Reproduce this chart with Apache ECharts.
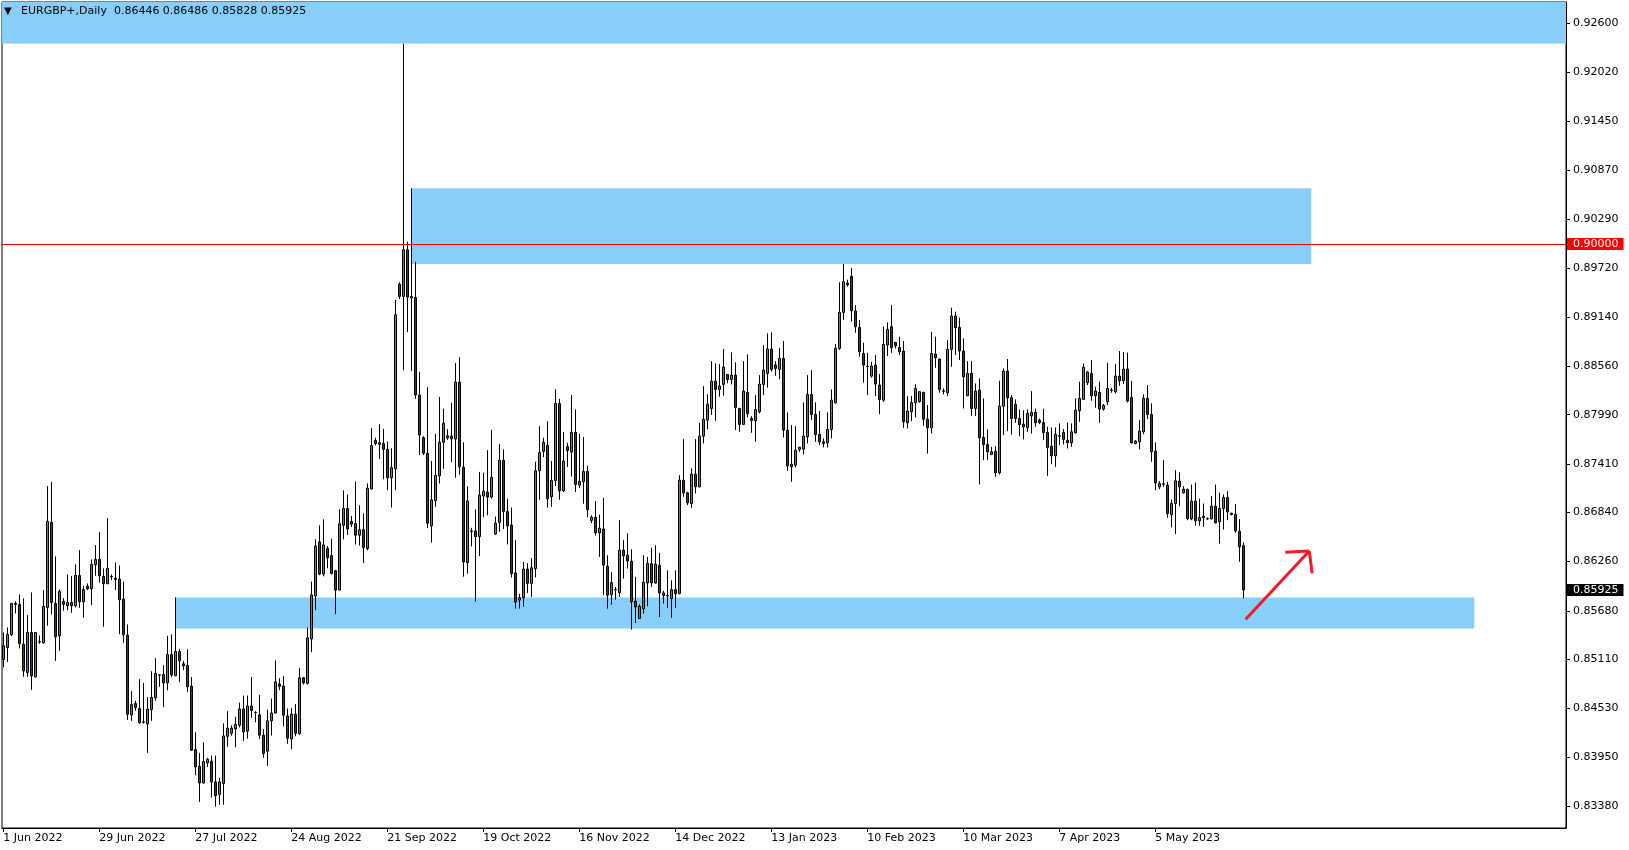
<!DOCTYPE html>
<html><head><meta charset="utf-8">
<script src="https://cdn.jsdelivr.net/npm/echarts@6/dist/echarts.min.js"></script>
<style>html,body{margin:0;padding:0;background:#fff}#c{width:1629px;height:850px}</style>
</head><body><div id="c"></div>
<script>
// ---------- data ----------
const symbolTitle = 'EURGBP+,Daily  0.86446 0.86486 0.85828 0.85925';
// one row per daily bar (bar index = position), [open, high, low, close]
const bars = [
[0.85106,0.85424,0.85012,0.85267],[0.85247,0.85483,0.85078,0.85401],[0.85397,0.85775,0.85385,0.85766],[0.85766,0.85790,0.85648,0.85754],
[0.85754,0.85872,0.85236,0.85294],[0.85287,0.85825,0.84902,0.84972],[0.84953,0.85629,0.84902,0.85424],[0.85424,0.85896,0.84748,0.84913],
[0.84902,0.85430,0.84894,0.85424],[0.85311,0.85389,0.85291,0.85316],[0.85302,0.85923,0.85294,0.85731],[0.85719,0.87149,0.85503,0.86733],
[0.86721,0.87197,0.85636,0.85778],[0.85766,0.86320,0.85090,0.85373],[0.85385,0.85931,0.85208,0.85908],[0.85790,0.85829,0.85680,0.85754],
[0.85739,0.86108,0.85688,0.85778],[0.85778,0.86088,0.85656,0.85739],[0.85739,0.86226,0.85719,0.86096],[0.86096,0.86395,0.85715,0.85786],
[0.85786,0.85974,0.85597,0.85931],[0.85970,0.86002,0.85923,0.85939],[0.85939,0.86285,0.85746,0.86226],[0.86222,0.86454,0.86092,0.86285],
[0.86285,0.86607,0.86010,0.86092],[0.86084,0.86179,0.85491,0.85998],[0.85998,0.86772,0.85994,0.86179],[0.86084,0.86108,0.86041,0.86080],
[0.86065,0.86250,0.85923,0.86049],[0.86053,0.86214,0.85404,0.85809],[0.85817,0.86022,0.85302,0.85397],[0.85393,0.85518,0.84395,0.84461],
[0.84453,0.84733,0.84383,0.84575],[0.84587,0.84619,0.84501,0.84540],[0.84528,0.84874,0.84351,0.84359],[0.84371,0.84831,0.84351,0.84367],
[0.84347,0.84662,0.84006,0.84520],[0.84516,0.84968,0.84383,0.84658],[0.84654,0.85122,0.84619,0.84941],[0.84921,0.84929,0.84784,0.84925],
[0.84929,0.85039,0.84544,0.84831],[0.84831,0.85385,0.84744,0.85165],[0.85165,0.85401,0.84902,0.84925],[0.84913,0.85837,0.84913,0.85200],
[0.85200,0.85232,0.84839,0.85090],[0.85055,0.85086,0.84980,0.85031],[0.85035,0.85228,0.84725,0.84784],[0.84792,0.84898,0.84029,0.84037],
[0.84045,0.84249,0.83742,0.83840],[0.83848,0.84006,0.83428,0.83652],[0.83652,0.84131,0.83644,0.83903],[0.83888,0.83947,0.83840,0.83931],
[0.83908,0.83974,0.83481,0.83664],[0.83664,0.83974,0.83372,0.83502],[0.83516,0.83712,0.83394,0.83664],[0.83646,0.84353,0.83394,0.84205],
[0.84201,0.84497,0.84078,0.84297],[0.84236,0.84331,0.84209,0.84297],[0.84288,0.84432,0.84070,0.84340],[0.84331,0.84597,0.84305,0.84523],
[0.84523,0.84681,0.84148,0.84253],[0.84262,0.84681,0.84174,0.84558],[0.84558,0.84899,0.84419,0.84506],[0.84484,0.84497,0.84366,0.84480],
[0.84454,0.84689,0.84170,0.84214],[0.84214,0.84288,0.83948,0.84000],[0.84026,0.84515,0.83852,0.84384],[0.84384,0.84645,0.84209,0.84475],
[0.84475,0.85095,0.84471,0.84842],[0.84816,0.84886,0.84746,0.84790],[0.84794,0.84912,0.84318,0.84449],[0.84441,0.84528,0.84113,0.84179],
[0.84170,0.84537,0.84048,0.84462],[0.84462,0.84580,0.84201,0.84236],[0.84231,0.85008,0.84218,0.84890],[0.84890,0.84899,0.84811,0.84829],
[0.84825,0.85483,0.84811,0.85361],[0.85348,0.86024,0.85191,0.85867],[0.85854,0.86522,0.85688,0.86443],[0.86491,0.86687,0.86099,0.86112],
[0.86112,0.86757,0.86085,0.86456],[0.86413,0.86443,0.86181,0.86304],[0.86330,0.86530,0.86107,0.86120],[0.86151,0.86160,0.85640,0.85924],
[0.85924,0.86875,0.85920,0.86705],[0.86687,0.87098,0.86522,0.86884],[0.86884,0.87050,0.86574,0.86644],[0.86731,0.86797,0.86666,0.86701],
[0.86709,0.87202,0.86461,0.86570],[0.86570,0.86923,0.86448,0.86635],[0.86635,0.86827,0.86242,0.86426],[0.86413,0.87181,0.86391,0.87124],
[0.87115,0.87831,0.87111,0.87626],[0.87686,0.87718,0.87627,0.87650],[0.87640,0.87878,0.87467,0.87660],[0.87650,0.87823,0.87229,0.87581],
[0.87581,0.87673,0.87101,0.87247],[0.87247,0.87595,0.86895,0.87366],[0.87352,0.89342,0.87101,0.89168],[0.89525,0.89548,0.89351,0.89383],
[0.89383,0.92362,0.88514,0.89932],[0.89932,0.90028,0.88962,0.89374],[0.89383,0.90657,0.88505,0.89365],[0.89370,0.89790,0.88176,0.88222],
[0.88222,0.88496,0.87513,0.87750],[0.87718,0.87737,0.87513,0.87535],[0.87535,0.88313,0.86653,0.86712],[0.86680,0.87444,0.86483,0.86987],
[0.86977,0.87764,0.86904,0.87275],[0.87270,0.88199,0.87179,0.87664],[0.87664,0.88061,0.87352,0.87888],[0.87718,0.87819,0.87695,0.87741],
[0.87737,0.88130,0.87430,0.87705],[0.87705,0.88597,0.87247,0.88373],[0.88373,0.88665,0.87284,0.87375],[0.87371,0.87664,0.86081,0.86255],
[0.86246,0.87147,0.86117,0.86973],[0.86621,0.86657,0.86438,0.86615],[0.86621,0.86873,0.85788,0.86553],[0.86553,0.87316,0.86324,0.87042],
[0.87032,0.87307,0.86781,0.87087],[0.87078,0.87572,0.86804,0.87019],[0.87019,0.87810,0.87001,0.87252],[0.86584,0.86790,0.86575,0.86712],
[0.86721,0.87645,0.86611,0.87453],[0.87453,0.87581,0.86643,0.86849],[0.86849,0.87000,0.86461,0.86680],[0.86689,0.86895,0.86072,0.86117],
[0.86126,0.86515,0.85706,0.85783],[0.85806,0.85879,0.85706,0.85834],[0.85834,0.86255,0.85728,0.86172],[0.86172,0.86241,0.85889,0.86003],
[0.86003,0.86301,0.85843,0.86186],[0.86177,0.87435,0.86072,0.87330],[0.87330,0.87856,0.86987,0.87545],[0.87558,0.87718,0.87490,0.87664],
[0.87627,0.87910,0.86895,0.87000],[0.87023,0.87444,0.86904,0.87215],[0.87215,0.88290,0.87147,0.88121],[0.88121,0.88176,0.86987,0.87092],
[0.87092,0.87787,0.87078,0.87444],[0.87613,0.87659,0.87375,0.87568],[0.87549,0.88222,0.87261,0.87782],[0.87782,0.88052,0.87078,0.87169],
[0.87160,0.87764,0.87124,0.87206],[0.87201,0.87727,0.86941,0.87320],[0.87320,0.87389,0.86781,0.86873],[0.86744,0.86804,0.86712,0.86781],
[0.86781,0.86973,0.86566,0.86598],[0.86598,0.86813,0.86315,0.86653],[0.86643,0.87010,0.85866,0.86218],[0.86204,0.86334,0.85705,0.85863],
[0.85870,0.86137,0.85752,0.86012],[0.85925,0.85961,0.85811,0.85930],[0.85894,0.86747,0.85843,0.86393],[0.86393,0.86511,0.86059,0.86326],
[0.86334,0.86590,0.86177,0.86267],[0.86263,0.86405,0.85458,0.85784],[0.85792,0.86079,0.85536,0.85725],[0.85588,0.85756,0.85588,0.85733],
[0.85701,0.86334,0.85646,0.86016],[0.86008,0.86314,0.85733,0.86236],[0.86236,0.86421,0.85961,0.86008],[0.86008,0.86452,0.86000,0.86228],
[0.86216,0.86362,0.85607,0.85890],[0.85890,0.85914,0.85764,0.85859],[0.85859,0.86157,0.85713,0.85855],[0.85823,0.86039,0.85595,0.85929],
[0.85929,0.86157,0.85713,0.85882],[0.85882,0.87277,0.85874,0.87218],[0.87218,0.87702,0.87022,0.87069],[0.87069,0.87081,0.86924,0.86951],
[0.86943,0.87356,0.86892,0.87289],[0.87289,0.87702,0.87061,0.87140],[0.87140,0.87894,0.87132,0.87737],[0.87737,0.88327,0.87651,0.87934],
[0.87926,0.88232,0.87816,0.88114],[0.88063,0.88621,0.87985,0.88385],[0.88385,0.88594,0.87918,0.88287],[0.88287,0.88586,0.88201,0.88327],
[0.88346,0.88763,0.88213,0.88551],[0.88464,0.88470,0.88358,0.88405],[0.88405,0.88723,0.88346,0.88456],[0.88456,0.88606,0.87808,0.88075],
[0.88063,0.88070,0.87788,0.87875],[0.87875,0.88621,0.87867,0.88268],[0.88252,0.88700,0.87957,0.88004],[0.87945,0.87973,0.87776,0.87922],
[0.87918,0.88220,0.87670,0.88051],[0.88024,0.88456,0.88004,0.88350],[0.88346,0.88810,0.88220,0.88515],[0.88476,0.88948,0.88307,0.88763],
[0.88763,0.88959,0.88496,0.88523],[0.88574,0.88621,0.88448,0.88535],[0.88523,0.88778,0.88405,0.88653],[0.88653,0.88857,0.87721,0.87808],
[0.87808,0.88016,0.87328,0.87387],[0.87407,0.87867,0.87199,0.87376],[0.87395,0.87855,0.87368,0.87572],[0.87580,0.87611,0.87552,0.87607],
[0.87584,0.88134,0.87521,0.87737],[0.87729,0.88456,0.87651,0.88228],[0.88228,0.88515,0.87926,0.87992],[0.87992,0.88134,0.87670,0.87757],
[0.87757,0.88032,0.87631,0.87670],[0.87670,0.87710,0.87604,0.87651],[0.87659,0.88016,0.87604,0.87816],[0.87816,0.88287,0.87710,0.88162],
[0.88130,0.88822,0.88122,0.88771],[0.88771,0.89549,0.88751,0.89195],[0.89195,0.89765,0.89104,0.89556],[0.89540,0.89580,0.89500,0.89520],
[0.89620,0.89720,0.89085,0.89214],[0.89211,0.89281,0.88955,0.89026],[0.89018,0.89104,0.88672,0.88731],[0.88711,0.88837,0.88366,0.88574],
[0.88562,0.88719,0.88220,0.88558],[0.88444,0.88613,0.88428,0.88562],[0.88574,0.88692,0.88208,0.88350],[0.88338,0.88468,0.87996,0.88169],
[0.88161,0.89026,0.88142,0.88817],[0.88810,0.89077,0.88680,0.88994],[0.89026,0.89281,0.88719,0.88778],[0.88841,0.88849,0.88770,0.88802],
[0.88782,0.88908,0.88692,0.88731],[0.88739,0.88857,0.87835,0.87906],[0.87894,0.88208,0.87827,0.88032],[0.88024,0.88212,0.87914,0.88134],
[0.88130,0.88350,0.87957,0.88299],[0.88142,0.88267,0.88130,0.88260],[0.88252,0.88260,0.87859,0.87937],[0.87937,0.88102,0.87532,0.87835],
[0.87835,0.88967,0.87768,0.88711],[0.88704,0.88908,0.88542,0.88660],[0.88645,0.88650,0.88248,0.88287],[0.88271,0.88299,0.88228,0.88265],
[0.88248,0.88869,0.88208,0.88759],[0.88759,0.89250,0.88554,0.89152],[0.89152,0.89203,0.88692,0.89014],[0.89018,0.89132,0.88633,0.88739],
[0.88739,0.88888,0.88063,0.88436],[0.88212,0.88621,0.88208,0.88476],[0.88476,0.88621,0.87976,0.88063],[0.88063,0.88358,0.87973,0.88267],
[0.88279,0.88417,0.87167,0.87717],[0.87721,0.88181,0.87454,0.87639],[0.87639,0.87815,0.87454,0.87552],[0.87521,0.87611,0.87513,0.87552],
[0.87560,0.87619,0.87257,0.87305],[0.87305,0.88389,0.87285,0.88090],[0.88090,0.88535,0.87749,0.88503],[0.88503,0.88645,0.87796,0.88189],
[0.88189,0.88220,0.87756,0.87945],[0.88110,0.88169,0.87894,0.87945],[0.87945,0.88051,0.87737,0.87874],[0.87878,0.88043,0.87698,0.87847],
[0.87839,0.88051,0.87788,0.88004],[0.87976,0.88267,0.87768,0.88016],[0.88016,0.88063,0.87847,0.87894],[0.87925,0.87945,0.87878,0.87898],
[0.87898,0.88060,0.87690,0.87780],[0.87780,0.87847,0.87270,0.87604],[0.87619,0.87839,0.87407,0.87505],[0.87505,0.87839,0.87376,0.87757],
[0.87737,0.87887,0.87631,0.87741],[0.87780,0.87820,0.87639,0.87698],[0.87690,0.87898,0.87592,0.87659],[0.87659,0.87887,0.87611,0.87788],
[0.87777,0.88181,0.87769,0.88044],[0.88036,0.88378,0.87906,0.88181],[0.88170,0.88594,0.88162,0.88547],[0.88366,0.88504,0.88339,0.88492],
[0.88476,0.88633,0.88154,0.88213],[0.88213,0.88319,0.88071,0.88268],[0.88252,0.88378,0.87894,0.88056],[0.88056,0.88115,0.88036,0.88099],
[0.88142,0.88602,0.88103,0.88299],[0.88276,0.88307,0.88248,0.88280],[0.88260,0.88586,0.88240,0.88445],[0.88445,0.88739,0.88331,0.88390],
[0.88390,0.88728,0.88350,0.88527],[0.88527,0.88720,0.88134,0.88150],[0.88193,0.88390,0.87651,0.87659],[0.87651,0.87690,0.87640,0.87678],
[0.87670,0.87926,0.87580,0.87796],[0.87788,0.88229,0.87761,0.88181],[0.88181,0.88339,0.87938,0.87993],[0.87993,0.88122,0.87435,0.87553],
[0.87560,0.87663,0.87101,0.87187],[0.87140,0.87207,0.87112,0.87179],[0.87175,0.87454,0.87140,0.87171],[0.87160,0.87199,0.86775,0.86826],
[0.86814,0.86991,0.86662,0.86943],[0.86943,0.87337,0.86584,0.87211],[0.87207,0.87309,0.86912,0.87140],[0.87069,0.87148,0.87061,0.87112],
[0.87109,0.87120,0.86747,0.86763],[0.86763,0.87167,0.86747,0.86971],[0.86971,0.87191,0.86680,0.86739],[0.86739,0.87002,0.86680,0.86778],
[0.86774,0.86943,0.86668,0.86794],[0.86766,0.86780,0.86750,0.86762],[0.86763,0.87030,0.86755,0.86912],[0.86912,0.87167,0.86708,0.86716],
[0.86727,0.87073,0.86472,0.86884],[0.86884,0.87049,0.86637,0.87014],[0.87014,0.87089,0.86747,0.86845],[0.86829,0.86835,0.86805,0.86814],
[0.86814,0.86936,0.86598,0.86621],[0.86617,0.86759,0.86256,0.86433],[0.86446,0.86486,0.85828,0.85925]
];
const xTickBars   = [0, 24, 48, 72, 96, 120, 144, 168, 192, 216, 240, 264, 288];
const xTickLabels = ['1 Jun 2022','29 Jun 2022','27 Jul 2022','24 Aug 2022','21 Sep 2022','19 Oct 2022',
                     '16 Nov 2022','14 Dec 2022','13 Jan 2023','10 Feb 2023','10 Mar 2023','7 Apr 2023','5 May 2023'];
const yTickLabels = ['0.92600','0.92020','0.91450','0.90870','0.90290','0.89720','0.89140','0.88560','0.87990',
                     '0.87410','0.86840','0.86260','0.85680','0.85110','0.84530','0.83950','0.83380'];
// visible window (bar index / price)
const X_MIN = -0.325, X_MAX = 390.675;
const Y_MIN = 0.83121, Y_MAX = 0.92851;
// supply / demand zones: [fromBar, toBar, lowPrice, highPrice]
const zoneTop    = [X_MIN, X_MAX, 0.92362, Y_MAX];
const zoneMiddle = [102, 327, 0.89765, 0.90657];
const zoneBottom = [43, 367.75, 0.85471, 0.85837];
const levelPrice = 0.90000;
const lastClose  = 0.85925;
// hand-drawn arrow: [bar, price] points
const arrowShaft = [[310.6, 0.85580], [326.5, 0.86384]];
const arrowHeadA = [[320.5, 0.86369], [326.5, 0.86384]];
const arrowHeadB = [[326.5, 0.86384], [327.2, 0.86121]];

// ---------- chart ----------
const FONT = 'DejaVu Sans';
const chart = echarts.init(document.getElementById('c'), null, {renderer: 'canvas'});
const zoneItem = z => [{xAxis: z[0], yAxis: z[3]}, {xAxis: z[1], yAxis: z[2]}];
const seg = (p, color, w) => [{coord: p[0], lineStyle: {color, width: w, type: 'solid'}, label: {show: false}}, {coord: p[1]}];
const tagStyle = bg => ({backgroundColor: bg, color: '#fff', padding: [1, 5, 0, 6], fontFamily: FONT, fontSize: 11, lineHeight: 12});

chart.setOption({
  animation: false,
  backgroundColor: '#ffffff',
  grid: {left: 2, top: 2, width: 1564, height: 826, show: true, borderColor: '#000', borderWidth: 1, backgroundColor: 'transparent'},
  xAxis: {
    type: 'value', min: X_MIN, max: X_MAX, position: 'bottom',
    splitLine: {show: false},
    axisLine: {show: true, onZero: false, lineStyle: {color: '#000', width: 1}},
    axisTick: {show: true, customValues: xTickBars, length: 4, lineStyle: {color: '#000'}},
    axisLabel: {
      customValues: xTickBars, align: 'left', margin: 5, color: '#000', fontFamily: FONT, fontSize: 11,
      formatter: v => { const i = xTickBars.indexOf(Math.round(v)); return i >= 0 ? xTickLabels[i] : ''; }
    }
  },
  yAxis: [{
    type: 'value', min: Y_MIN, max: Y_MAX, position: 'right', scale: true,
    splitLine: {show: false},
    axisLine: {show: true, onZero: false, lineStyle: {color: '#000', width: 1}},
    axisTick: {show: true, customValues: yTickLabels.map(Number), length: 4, lineStyle: {color: '#000'}},
    axisLabel: {
      customValues: yTickLabels.map(Number), margin: 7, color: '#000', fontFamily: FONT, fontSize: 11,
      formatter: v => v.toFixed(5)
    }
  }, {
    // price tags (level line and last close) on the price scale
    type: 'value', min: Y_MIN, max: Y_MAX, position: 'right', scale: true, offset: 0, z: 5,
    splitLine: {show: false},
    axisLine: {show: false, onZero: false},
    axisTick: {show: false},
    axisLabel: {
      customValues: [levelPrice, lastClose], margin: 1, hideOverlap: false,
      formatter: v => Math.abs(v - levelPrice) < 1e-9 ? '{r|' + v.toFixed(5) + '}' : '{k|' + v.toFixed(5) + '}',
      rich: {r: tagStyle('#ff0000'), k: tagStyle('#000000')}
    }
  }],
  graphic: [
    {type: 'text', left: 4, top: 6, z: 100, style: {text: '▼', fontSize: 10, fill: '#000', fontFamily: FONT}},
    {type: 'text', left: 21, top: 6, z: 100, style: {text: symbolTitle, fontSize: 11, fill: '#000', fontFamily: FONT}}
  ],
  series: [{
    type: 'candlestick',
    yAxisIndex: 0,
    data: bars.map((b, i) => [i, b[0], b[3], b[2], b[1]]),
    encode: {x: 0, y: [1, 2, 3, 4]},
    barWidth: 2,
    z: 3,
    itemStyle: {color: '#00c800', color0: '#c80000', borderColor: '#000', borderColor0: '#000', borderColorDoji: '#000', borderWidth: 1},
    markArea: {
      silent: true, z: 1,
      itemStyle: {color: '#87cefa', opacity: 1},
      data: [zoneItem(zoneTop), zoneItem(zoneMiddle), zoneItem(zoneBottom)]
    },
    markLine: {
      silent: true, symbol: ['none', 'none'], z: 4,
      label: {show: false},
      data: [
        {yAxis: levelPrice, lineStyle: {color: '#ff0000', width: 1, type: 'solid'}, label: {show: false}},
        seg(arrowShaft, '#ed1c24', 3),
        seg(arrowHeadA, '#ed1c24', 3),
        seg(arrowHeadB, '#ed1c24', 3)
      ]
    }
  }]
});
</script>
</body></html>
